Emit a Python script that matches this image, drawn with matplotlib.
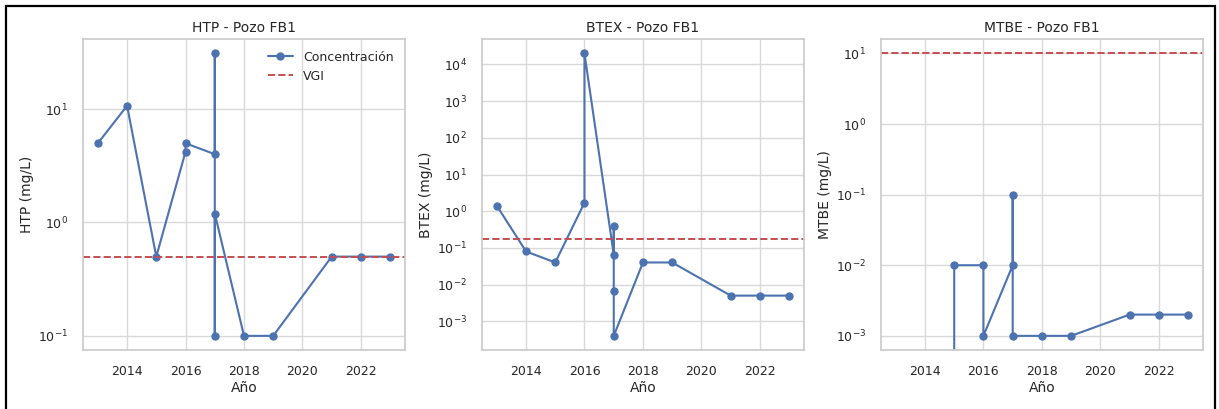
import matplotlib
matplotlib.use("Agg")
import matplotlib.pyplot as plt
import matplotlib.dates as mdates
from matplotlib.patches import Rectangle
import pandas as pd
import seaborn as sns

# fechas de muestreo (HTP y BTEX comparten fechas)
fechas = ["2013-01-01", "2014-01-01", "2015-01-01", "2016-01-01", "2016-01-01",
          "2017-01-01", "2017-01-01", "2017-01-01", "2017-01-01",
          "2018-01-01", "2019-01-01", "2021-01-01", "2022-01-01", "2023-01-01"]
htp = [5.0, 10.7, 0.5, 4.2, 5.0, 4.0, 31.0, 0.1, 1.2, 0.1, 0.1, 0.5, 0.5, 0.5]
btex = [1.4, 0.08, 0.04, 1.7, 20000, 0.065, 0.4, 0.0065, 0.0004, 0.04, 0.04, 0.005, 0.005, 0.005]

fechas_mtbe = ["2013-01-01", "2014-01-01", "2015-01-01", "2015-01-01", "2016-01-01",
               "2016-01-01", "2017-01-01", "2017-01-01", "2017-01-01",
               "2018-01-01", "2019-01-01", "2021-01-01", "2022-01-01", "2023-01-01"]
mtbe = [0, 0, 0, 0.01, 0.01, 0.001, 0.01, 0.1, 0.001, 0.001, 0.001, 0.002, 0.002, 0.002]

vgi = {"HTP": 0.5, "BTEX": 0.18, "MTBE": 10}

sns.set_theme(style="whitegrid")
plt.rcParams["font.family"] = ["DejaVu Sans"]

fig, axes = plt.subplots(1, 3, figsize=(12.19, 4.09), dpi=100, sharex=True)
fig.subplots_adjust(left=0.0683, right=0.9866, top=0.904, bottom=0.1443, wspace=0.241)

series = [("HTP", fechas, htp), ("BTEX", fechas, btex), ("MTBE", fechas_mtbe, mtbe)]

for ax, (nombre, f, vals) in zip(axes, series):
    x = pd.to_datetime(f)
    ax.plot(x, vals, marker="o", color="#4C72B0", lw=1.5, ms=5, label="Concentración")
    ax.axhline(vgi[nombre], color="#C44E52", ls="--", lw=1.4, label="VGI")
    ax.set_yscale("log")
    ax.set_title(f"{nombre} - Pozo FB1", fontsize=10, color=".15", pad=5)
    ax.set_xlabel("Año", fontsize=10, color=".15", labelpad=2)
    ax.set_ylabel(f"{nombre} (mg/L)", fontsize=10, color=".15", labelpad=3)
    ax.tick_params(labelsize=9, colors=".15", pad=5)
    ax.xaxis.set_major_locator(mdates.YearLocator(2))
    ax.xaxis.set_major_formatter(mdates.DateFormatter("%Y"))
    ax.grid(True, which="major", color=".85")

axes[0].legend(loc="upper right", frameon=False, fontsize=9)

# marco negro del recorte
fig.patches.append(Rectangle((6 / 1219, -0.1), 1209 / 1219, 1.1 - 6 / 409,
                             transform=fig.transFigure, fill=False,
                             edgecolor="black", lw=1.6))

fig.savefig("out.png", dpi=100)
